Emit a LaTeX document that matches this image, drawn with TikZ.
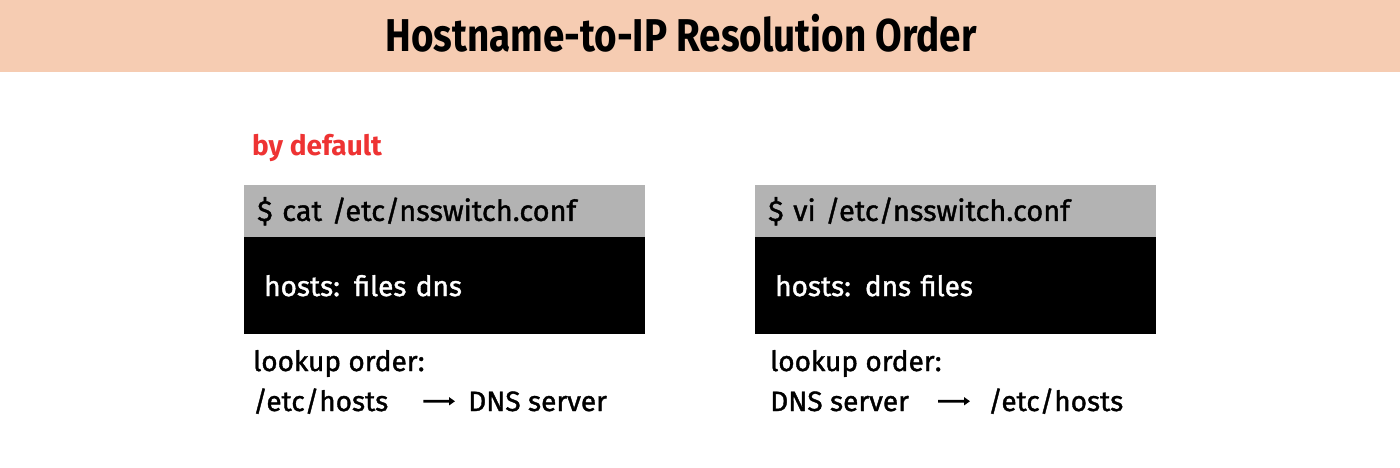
\documentclass[tikz,border=0pt]{standalone}
\usepackage{fontspec}
\usetikzlibrary{arrows.meta}
\setmainfont{Fira Sans}
\newfontfamily\handfont{Fira Sans}[FakeBold=1.3]
\newfontfamily\titlefont{Fira Sans}[FakeStretch=0.84]
\definecolor{peach}{HTML}{F6CCB2}
\definecolor{hdrgray}{HTML}{B3B3B3}
\definecolor{notered}{HTML}{EE3333}
\begin{document}
\begin{tikzpicture}[
    x=1pt, y=-1pt,
    header/.style={
        rectangle,
        fill=hdrgray,
        anchor=north west,
        minimum width=401pt,
        minimum height=52pt,
        text width=375pt,
        inner xsep=13pt,
        align=left,
        font=\handfont\fontsize{29}{32}\selectfont
    },
    confbody/.style={
        rectangle,
        fill=black,
        text=white,
        anchor=north west,
        minimum width=401pt,
        minimum height=97pt,
        text width=361pt,
        inner xsep=20pt,
        align=left,
        font=\handfont\fontsize{28}{32}\selectfont
    },
    plain/.style={anchor=base west, inner sep=0pt, font=\handfont\fontsize{28}{32}\selectfont},
    flow/.style={-{Triangle[length=6pt,width=8pt]}, line width=2.6pt}
]

\useasboundingbox (0,0) rectangle (1400,467);
\fill[peach] (0,0) rectangle (1400,72);
\node[anchor=base, inner sep=0pt, font=\titlefont\bfseries\fontsize{46}{50}\selectfont] (title) at (681,51) {Hostname-to-IP Resolution Order};

\node[plain, text=notered, font=\bfseries\fontsize{28}{32}\selectfont] (default) at (252,155) {by default};

% default config
\node[header] (cat hdr) at (244,185) {\$ cat /etc/nsswitch.conf};
\node[confbody] (cat body) at (244,237) {hosts: files dns};
\node[plain] (cat order) at (253,371) {lookup order:};
\node[plain] (cat first) at (253,411) {/etc/hosts};
\node[plain] (cat second) at (468,411) {DNS server};
\draw[flow, shorten <=35pt, shorten >=13pt] (cat first) -- (cat second);

% edited config
\node[header] (vi hdr) at (755,185) {\$ vi /etc/nsswitch.conf};
\node[confbody] (vi body) at (755,237) {hosts: dns files};
\node[plain] (vi order) at (770,371) {lookup order:};
\node[plain] (vi first) at (770,411) {DNS server};
\node[plain] (vi second) at (988,411) {/etc/hosts};
\draw[flow, shorten <=29pt, shorten >=18pt] (vi first) -- (vi second);

\end{tikzpicture}
\end{document}
